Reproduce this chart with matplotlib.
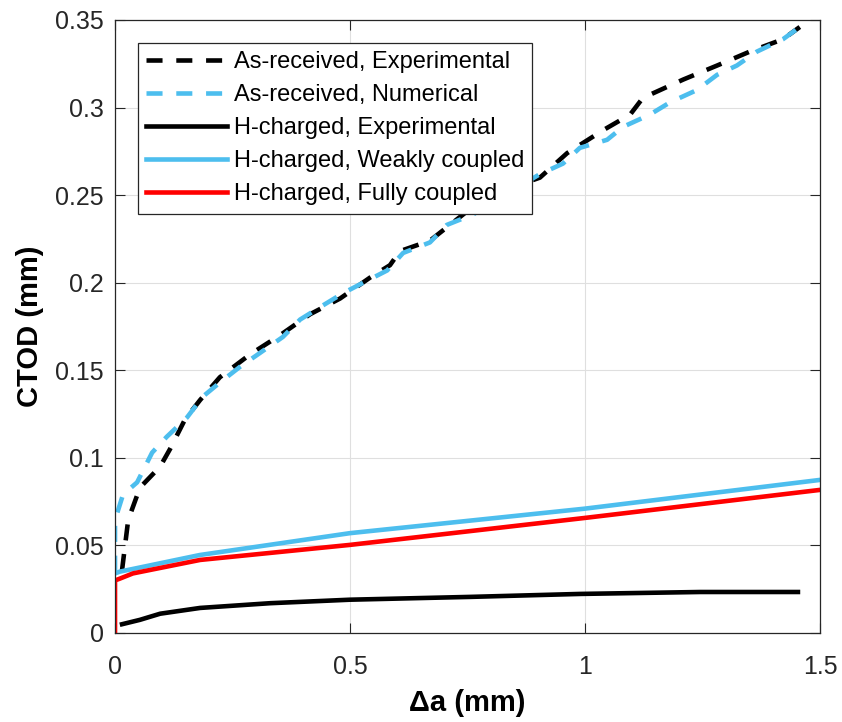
import matplotlib
matplotlib.use("Agg")
import matplotlib.pyplot as plt

plt.rcParams['font.family'] = ['Liberation Sans', 'DejaVu Sans']

# As-received, experimental (black dashed)
ar_exp_x = [0.015, 0.028, 0.053, 0.096, 0.117, 0.149, 0.181, 0.223, 0.287, 0.351, 0.415,
            0.479, 0.543, 0.585, 0.606, 0.670, 0.755, 0.798, 0.904, 0.962, 0.983, 1.038,
            1.096, 1.123, 1.209, 1.281, 1.351, 1.421, 1.457]
ar_exp_y = [0.036, 0.0645, 0.083, 0.095, 0.105, 0.122, 0.133, 0.146, 0.159, 0.170, 0.182,
            0.191, 0.203, 0.210, 0.218, 0.224, 0.242, 0.250, 0.260, 0.274, 0.2776, 0.287,
            0.296, 0.3055, 0.316, 0.324, 0.332, 0.339, 0.346]

# As-received, numerical (blue dashed)
ar_num_x = [0.0, 0.0, 0.017, 0.047, 0.079, 0.110, 0.153, 0.187, 0.223, 0.266, 0.309, 0.357,
            0.394, 0.436, 0.485, 0.528, 0.579, 0.613, 0.670, 0.706, 0.762, 0.904, 0.953,
            0.989, 1.047, 1.081, 1.138, 1.181, 1.238, 1.281, 1.323, 1.366, 1.421, 1.457]
ar_num_y = [0.035, 0.0645, 0.079, 0.086, 0.103, 0.112, 0.123, 0.135, 0.143, 0.152, 0.160, 0.169,
            0.179, 0.186, 0.194, 0.200, 0.207, 0.217, 0.223, 0.233, 0.239, 0.262, 0.268,
            0.277, 0.2816, 0.289, 0.296, 0.303, 0.310, 0.3187, 0.324, 0.332, 0.339, 0.346]

# H-charged, experimental (black solid)
hc_exp_x = [0.015, 0.053, 0.096, 0.181, 0.330, 0.500, 0.755, 0.990, 1.245, 1.453]
hc_exp_y = [0.005, 0.0075, 0.011, 0.0143, 0.017, 0.019, 0.0206, 0.0223, 0.0234, 0.0234]

# H-charged, weakly coupled (blue solid)
hc_weak_x = [0.0, 0.01, 0.18, 0.50, 1.00, 1.50]
hc_weak_y = [0.034, 0.035, 0.0445, 0.057, 0.071, 0.0874]

# H-charged, fully coupled (red solid)
hc_full_x = [0.0, 0.0, 0.01, 0.038, 0.075, 0.181, 0.50, 1.00, 1.50]
hc_full_y = [0.0, 0.030, 0.031, 0.034, 0.036, 0.0417, 0.0503, 0.0657, 0.0817]

labels = ["As-received, Experimental", "As-received, Numerical",
          "H-charged, Experimental", "H-charged, Weakly coupled",
          "H-charged, Fully coupled"]

blue = '#4DBEEE'
red = '#FF0000'

fig = plt.figure(figsize=(8.42, 7.22), dpi=100)
ax = fig.add_axes([0.1366, 0.1233, 0.8373, 0.849])

lw = 3.3
dash = (0, (3.5, 3.0))
ax.plot(ar_exp_x, ar_exp_y, color='black', lw=lw, linestyle=dash, label=labels[0])
ax.plot(ar_num_x, ar_num_y, color=blue, lw=lw, linestyle=dash, label=labels[1])
ax.plot(hc_exp_x, hc_exp_y, color='black', lw=lw, label=labels[2])
ax.plot(hc_weak_x, hc_weak_y, color=blue, lw=lw, label=labels[3])
ax.plot(hc_full_x, hc_full_y, color=red, lw=lw, label=labels[4])

ax.set_xlim(0, 1.5)
ax.set_ylim(0, 0.35)
ax.set_xticks([0, 0.5, 1, 1.5])
ax.set_xticklabels(["0", "0.5", "1", "1.5"])
ax.set_yticks([0, 0.05, 0.1, 0.15, 0.2, 0.25, 0.3, 0.35])
ax.set_yticklabels(["0", "0.05", "0.1", "0.15", "0.2", "0.25", "0.3", "0.35"])
ax.tick_params(direction='in', top=True, right=True, labelsize=18, length=7,
               width=0.8, colors='#262626', pad=8)
ax.tick_params(axis='x', pad=16)
ax.grid(True, color='#DFDFDF', lw=0.8)
ax.set_axisbelow(True)
for s in ax.spines.values():
    s.set_color('#262626')
    s.set_linewidth(0.9)

ax.set_xlabel("Δa (mm)", fontsize=21, fontweight='bold', labelpad=7)
ax.set_ylabel("CTOD (mm)", fontsize=21, fontweight='bold', labelpad=8)

leg = ax.legend(loc='upper left', bbox_to_anchor=(0.0326, 0.963), borderaxespad=0,
                fontsize=17, handlelength=3.4, labelspacing=0.47, fancybox=False,
                framealpha=1, edgecolor='#262626', borderpad=0.35, handletextpad=0.3)
leg.get_frame().set_linewidth(0.9)

fig.savefig("out.png", dpi=100)
